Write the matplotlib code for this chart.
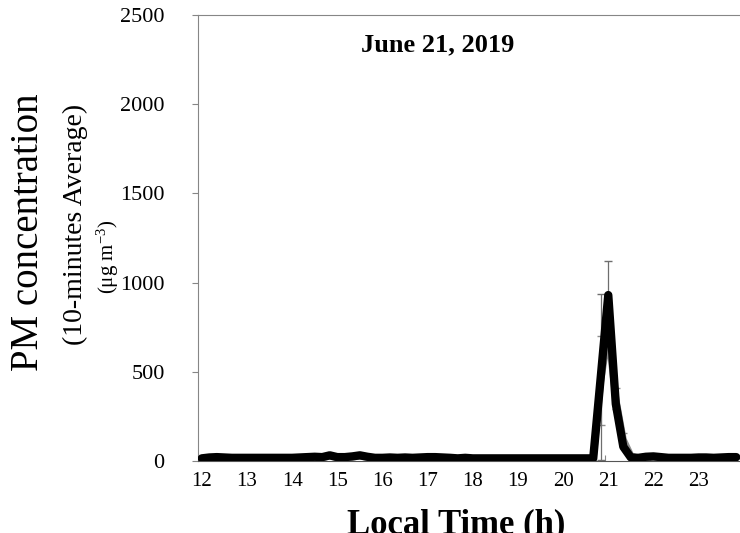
import numpy as np
import matplotlib
matplotlib.use('Agg')
from matplotlib import pyplot as plt

plt.rcParams['font.family'] = ['Liberation Serif', 'DejaVu Serif']
plt.rcParams['mathtext.default'] = 'regular'

# 10-minute averages, 12:00 .. 23:50 (Excel category axis: point sits mid-slot)
slot = np.arange(72)
hours = 12 + (slot + 0.5) / 6.0

pm_black = [15, 20, 22, 20, 18, 18,
            18, 18, 18, 18, 18, 18,
            18, 20, 22, 24, 22, 32,
            22, 22, 26, 32, 24, 18,
            18, 20, 18, 20, 18, 20,
            22, 22, 20, 18, 15, 18,
            15, 15, 15, 15, 15, 15,
            15, 15, 15, 15, 15, 15,
            15, 15, 15, 15, 15, 470,
            930, 320, 80, 20, 18, 24,
            26, 22, 18, 18, 18, 18,
            20, 20, 18, 20, 22, 22]
pm_gray = [12, 15, 18, 16, 15, 15,
           15, 15, 15, 15, 15, 15,
           15, 16, 18, 20, 18, 28,
           18, 18, 22, 28, 20, 15,
           15, 16, 15, 16, 15, 16,
           18, 18, 16, 15, 12, 15,
           12, 12, 12, 12, 12, 12,
           12, 12, 12, 12, 12, 12,
           12, 12, 12, 12, 12, 450,
           720, 350, 120, 30, 15, 20,
           22, 18, 15, 15, 15, 15,
           16, 16, 15, 16, 18, 18]
err_black = np.zeros(72)
err_black[53] = 465
err_black[54] = 190
err_gray = np.zeros(72)
err_gray[53] = 250
err_gray[55] = 60
err_gray[56] = 35

hour_labels = [str(h) for h in range(12, 24)]

fig = plt.figure(figsize=(7.4, 5.33), dpi=100)
ax = fig.add_axes([0.2676, 0.135, 0.7324, 0.837])

mask_b = err_black > 0
mask_g = err_gray > 0
ax.plot(hours, pm_gray, color='#8c8c8c', lw=5, solid_capstyle='round', zorder=2)
ax.errorbar(hours[mask_g], np.array(pm_gray)[mask_g], yerr=err_gray[mask_g], fmt='none',
            ecolor='#8c8c8c', elinewidth=0.8, capsize=3, zorder=2)
ax.errorbar(hours[mask_b], np.array(pm_black)[mask_b], yerr=err_black[mask_b], fmt='none',
            ecolor='#6e6e6e', elinewidth=0.9, capsize=3, zorder=2)
ax.plot(hours, pm_black, color='black', lw=6, solid_capstyle='round',
        solid_joinstyle='round', zorder=3)

ax.set_xlim(12, 24)
ax.set_ylim(0, 2500)
ax.set_yticks([0, 500, 1000, 1500, 2000, 2500])
ax.tick_params(axis='y', direction='out', length=4, color='#868686', pad=20, labelsize=16)

# tick marks on slot boundaries, labels on the hh:00 point
ax.set_xticks(np.arange(13, 24))
ax.set_xticklabels([])
ax.set_xticks(12 + np.arange(12) + 1 / 12.0, minor=True)
ax.set_xticklabels(hour_labels, minor=True)
ax.tick_params(axis='x', which='major', direction='in', length=4, color='#868686')
ax.tick_params(axis='x', which='minor', length=0, pad=8, labelsize=15)

for s in ['left', 'top']:
    ax.spines[s].set_color('#868686')
ax.spines['bottom'].set_color('#555555')
ax.spines['right'].set_visible(False)

fig.text(0.038, 0.565, 'PM concentration', rotation=90, fontsize=28,
         ha='center', va='center')
fig.text(0.102, 0.578, '(10-minutes Average)', rotation=90, fontsize=20,
         ha='center', va='center')
fig.text(0.146, 0.518, r'(μg m$^{-3}$)', rotation=90, fontsize=15,
         ha='center', va='center')
fig.text(0.592, 0.9156, 'June 21, 2019', fontsize=19, fontweight='bold',
         ha='center', va='center')
fig.text(0.616, 0.0, 'Local Time (h)', fontsize=25, fontweight='bold',
         ha='center', va='baseline')

fig.savefig('out.png', dpi=100)
